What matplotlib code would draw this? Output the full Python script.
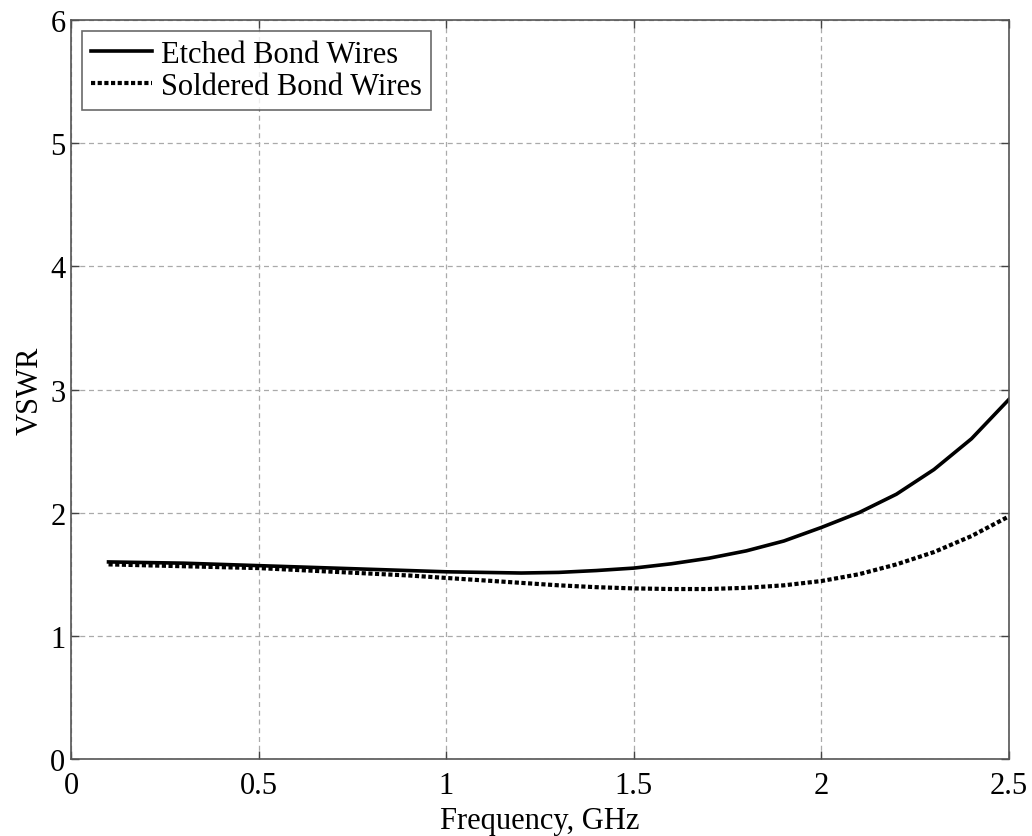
import matplotlib
matplotlib.use("Agg")
import matplotlib.pyplot as plt

freq_etched = [0.1, 0.3, 0.5, 0.7, 0.9, 1.0, 1.1, 1.2, 1.3, 1.4, 1.5, 1.6, 1.7, 1.8, 1.9, 2.0, 2.1, 2.2, 2.3, 2.4, 2.5]
vswr_etched = [1.60, 1.59, 1.57, 1.55, 1.53, 1.52, 1.515, 1.51, 1.515, 1.53, 1.55, 1.585, 1.63, 1.69, 1.77, 1.88, 2.00, 2.15, 2.35, 2.60, 2.92]

freq_soldered = [0.1, 0.3, 0.5, 0.7, 0.9, 1.0, 1.1, 1.2, 1.3, 1.4, 1.5, 1.6, 1.7, 1.8, 1.9, 2.0, 2.1, 2.2, 2.3, 2.4, 2.5]
vswr_soldered = [1.58, 1.565, 1.55, 1.52, 1.49, 1.47, 1.45, 1.43, 1.41, 1.395, 1.385, 1.38, 1.38, 1.39, 1.41, 1.445, 1.50, 1.58, 1.68, 1.81, 1.97]

x_ticks = [0, 0.5, 1, 1.5, 2, 2.5]
x_ticklabels = ["0", "0.5", "1", "1.5", "2", "2.5"]
y_ticks = [0, 1, 2, 3, 4, 5, 6]

plt.rcParams['font.family'] = ['Liberation Serif', 'DejaVu Serif']

fig = plt.figure(figsize=(10.32, 8.37), dpi=100)
ax = fig.add_axes([0.0688, 0.0920, 0.9089, 0.8829])

ax.plot(freq_etched, vswr_etched, color='black', lw=2.6, linestyle='-', label='Etched Bond Wires')
ax.plot(freq_soldered, vswr_soldered, color='black', lw=3.0, linestyle=(0, (1.0, 0.6)), label='Soldered Bond Wires')

ax.set_xlim(0, 2.5)
ax.set_ylim(0, 6)
ax.set_xticks(x_ticks)
ax.set_xticklabels(x_ticklabels)
ax.set_yticks(y_ticks)
ax.grid(True, color='#aaaaaa', linestyle=(0, (4, 3)), linewidth=0.9)
ax.tick_params(direction='in', top=True, right=True, length=6, width=1, colors='#444444', labelcolor='black', labelsize=22)
ax.tick_params(axis='x', pad=9)
ax.tick_params(axis='y', pad=4)
for s in ax.spines.values():
    s.set_color('#555555')
    s.set_linewidth(1.2)

ax.set_xlabel('Frequency, GHz', fontsize=22, labelpad=4)
ax.set_ylabel('VSWR', fontsize=22, labelpad=4)

leg = ax.legend(loc='upper left', fontsize=22, frameon=True, fancybox=False,
                edgecolor='#444444', borderaxespad=0.35, handlelength=2.0,
                handletextpad=0.3, borderpad=0.3, labelspacing=0.1)
leg.get_frame().set_linewidth(1.2)

fig.savefig('out.png', dpi=100)
